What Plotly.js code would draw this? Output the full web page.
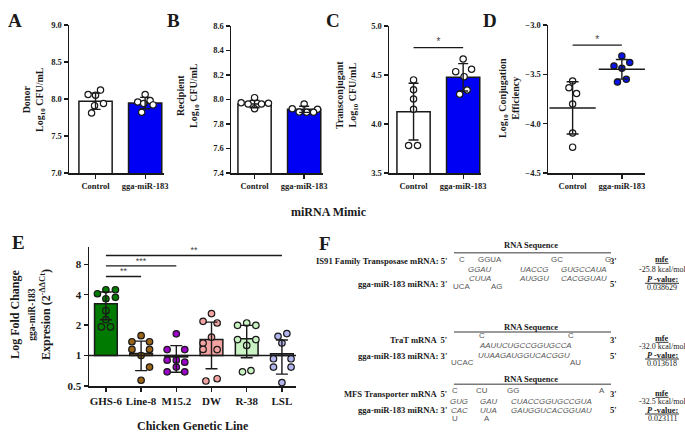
<!DOCTYPE html>
<html><head><meta charset="utf-8">
<script src="https://cdn.plot.ly/plotly-3.0.1.min.js"></script>
<style>html,body{margin:0;padding:0;background:#fff}#c{width:685px;height:446px}</style>
</head><body><div id="c"></div><script>
const W = 685, H = 446;
const X = p => p / W, Y = p => 1 - p / H;

// ---------- DATA ----------
const groups = ['Control', 'gga-miR-183'];
// A: Donor
const donorCtrl = [8.12, 8.06, 8.05, 7.94, 7.91, 7.81];
const donorMimic = [8.06, 7.98, 7.96, 7.94, 7.92, 7.82];
const donorMean = [7.97, 7.945];
const donorSD = [0.11, 0.077];
// B: Recipient
const recipCtrl = [8.015, 7.974, 7.963, 7.963, 7.97, 7.925];
const recipMimic = [7.963, 7.925, 7.92, 7.898, 7.896, 7.896];
const recipMean = [7.963, 7.92];
const recipSD = [0.03, 0.025];
// C: Transconjugant
const transCtrl = [4.45, 4.35, 4.255, 4.15, 3.78, 3.78];
const transMimic = [4.663, 4.534, 4.558, 4.483, 4.347, 4.303];
const transMean = [4.126, 4.476];
const transSD = [0.29, 0.14];
const transSig = [4.78];
// D: Conjugation efficiency
const conjCtrl = [-3.568, -3.636, -3.694, -3.80, -4.095, -4.238];
const conjMimic = [-3.313, -3.415, -3.38, -3.439, -3.578, -3.551];
const conjMean = [-3.84, -3.449];
const conjSD = [0.265, 0.10];
const conjSig = [-3.204];
// E: chicken genetic lines
const lines = ['GHS-6', 'Line-8', 'M15.2', 'DW', 'R-38', 'LSL'];
const ghs6 = [4.48, 4.48, 4.09, 3.77, 3.65, 2.78, 2.27, 1.92, 1.92];
const line8 = [1.575, 1.37, 1.37, 1.15, 1.15, 1.0, 0.77, 0.57];
const m152 = [1.64, 1.146, 1.146, 0.9, 0.9, 0.86, 0.77, 0.69, 0.69];
const dw = [2.6, 2.18, 2.1, 1.52, 1.33, 1.15, 1.146, 0.56, 0.59];
const r38 = [1.99, 2.1, 1.99, 1.44, 1.44, 1.26, 0.69, 0.71];
const lsl = [1.55, 1.65, 1.33, 0.93, 0.93, 0.77, 0.77, 0.54];
const lineMeans = [3.26, 1.05, 0.97, 1.44, 1.47, 1.04];
const lineSD = [1.0, 0.34, 0.285, 0.70, 0.52, 0.385];
const sigTo = [1, 2, 5];
const sigY = [6.06, 7.73, 9.77];
const sigText = ['**', '***', '**'];
// F: RNA hybrids
const fTargets = ["IS91 Family Transposase mRNA: 5'", "TraT mRNA  5'", "MFS Transporter mRNA  5'"];
const fMirna = "gga-miR-183 miRNA: 3'";
const fMfe = ['-25.8 kcal/mol', '-32.0 kcal/mol', '-32.5 kcal/mol'];
const fPvalues = ['0.038629', '0.013618', '0.023111'];
const seqIS91 = [['C', 'GGUA', 'GC', 'G'], ['GGAU', 'UACCG', 'GUGCCAUA'], ['CUUA', 'AUGGU', 'CACGGUAU'], ['UCA', 'AG']];
const seqTraT = [['C', 'C'], ['AAUUCUGCCGGUGCCA'], ['UUAAGAUGGUCACGGU'], ['UCAC', 'AU']];
const seqMFS = [['C', 'CU', 'GG', 'A'], ['GUG', 'GAU', 'CUACCGGUGCCGUA'], ['CAC', 'UUA', 'GAUGGUCACGGUAU'], ['U', 'A']];

// ---------- POSITIONS (jitter of dots, in category units) ----------
const jitA = [[0.1, -0.15, 0.0, 0.16, -0.02, -0.08], [0, 0.1, -0.15, -0.03, 0.16, -0.07]];
const jitB = [[0, -0.27, -0.13, 0.14, 0.28, 0], [0, -0.24, 0.27, -0.1, 0.05, 0.19]];
const jitC = [[0, 0, 0, 0, -0.1, 0.08], [0, -0.15, 0.17, 0.02, 0.08, -0.07]];
const jitD = [[0, -0.075, 0.08, 0, 0, 0], [0, -0.16, 0.16, 0, -0.09, 0.09]];
const jitE = [
  [0, 0.27, -0.24, 0.27, 0, 0, 0, -0.13, 0.13],
  [0, -0.26, 0.24, -0.26, 0.24, 0, 0.24, 0],
  [0, -0.26, 0.24, -0.26, 0, 0.24, 0, -0.26, 0.24],
  [0, -0.24, 0.16, 0, -0.24, -0.24, 0.16, -0.16, 0.16],
  [-0.26, 0, 0.26, -0.26, 0.26, 0, -0.12, 0.12],
  [-0.11, 0.14, 0, -0.24, 0.26, -0.24, 0.26, 0]
];
const lineColors = ['#007A00', '#9A6418', '#9A00C8', '#F4A3A3', '#C9F3C3', '#B3B6EE'];

const SERIF = 'Liberation Serif, Times New Roman, serif';
const SANS = 'Liberation Sans, Arial, sans-serif';
const INK = '#1a1a1a';

const traces = [];
function dots(xc, vals, jit, ax, fill, size) {
  traces.push({type: 'scatter', mode: 'markers', xaxis: 'x' + ax, yaxis: 'y' + ax,
    x: vals.map((v, i) => xc + jit[i]), y: vals,
    marker: {size: size || 6.3, color: fill, line: {color: INK, width: 1.2}},
    hoverinfo: 'skip', cliponaxis: false});
}
function errs(xs, means, sds, ax, capw, meanLine) {
  traces.push({type: 'scatter', mode: 'markers', xaxis: 'x' + ax, yaxis: 'y' + ax,
    x: xs, y: means,
    marker: meanLine ? {symbol: 'line-ew', size: meanLine, color: INK, line: {color: INK, width: 1.5}} : {size: 1, opacity: 0},
    error_y: {type: 'data', array: sds, visible: true, color: INK, thickness: 1.4, width: capw},
    hoverinfo: 'skip', cliponaxis: false});
}
function bracket(x0, x1, yv, txt, ax, size) {
  traces.push({type: 'scatter', mode: 'lines', xaxis: 'x' + ax, yaxis: 'y' + ax,
    x: [x0, x1], y: [yv, yv], line: {color: INK, width: 1.3}, hoverinfo: 'skip', cliponaxis: false});
  traces.push({type: 'scatter', mode: 'text', xaxis: 'x' + ax, yaxis: 'y' + ax,
    x: [(x0 + x1) / 2], y: [yv], text: [txt], textposition: 'top center',
    textfont: {family: SANS, size: size || 10, color: '#444'}, hoverinfo: 'skip', cliponaxis: false});
}
function barPanel(ax, ctrl, mim, means, sds, jit, sig) {
  traces.push({type: 'bar', xaxis: 'x' + ax, yaxis: 'y' + ax, x: [0, 1], y: means, width: 0.67,
    marker: {color: ['#ffffff', '#0000F5'], line: {color: INK, width: 1.5}}, hoverinfo: 'skip'});
  dots(0, ctrl, jit[0], ax, '#ffffff');
  dots(1, mim, jit[1], ax, '#ffffff');
  errs([0, 1], means, sds, ax, 5);
  if (sig) bracket(0, 1, sig[0], '*', ax);
}
barPanel('', donorCtrl, donorMimic, donorMean, donorSD, jitA);
barPanel('2', recipCtrl, recipMimic, recipMean, recipSD, jitB);
barPanel('3', transCtrl, transMimic, transMean, transSD, jitC, transSig);
// D
dots(0, conjCtrl, jitD[0], '4', '#ffffff');
dots(1, conjMimic, jitD[1], '4', '#0A14E6');
errs([0, 1], conjMean, conjSD, '4', 6, 33);
bracket(0, 1, conjSig[0], '*', '4');
// E
const eIdx = lines.map((_, i) => i);
traces.push({type: 'bar', xaxis: 'x5', yaxis: 'y5', x: eIdx, y: lineMeans.map(m => m - 1), base: 1, width: 0.645,
  marker: {color: lineColors, line: {color: INK, width: 1.5}}, hoverinfo: 'skip'});
[ghs6, line8, m152, dw, r38, lsl].forEach((vals, i) => dots(i, vals, jitE[i], '5', lineColors[i], 6.5));
errs(eIdx, lineMeans, lineSD, '5', 6);
sigTo.forEach((t, i) => bracket(0, t, sigY[i], sigText[i], '5', 9));

// ---------- AXES ----------
function xax(d0, d1, range, ticktext, anchor, fs) {
  return {domain: [X(d0), X(d1)], range, anchor, tickmode: 'array', tickvals: ticktext.map((_, i) => i), ticktext,
    showline: true, linecolor: INK, linewidth: 1.5, ticks: 'outside', ticklen: 4, tickwidth: 1.3, tickcolor: INK,
    showgrid: false, zeroline: false, fixedrange: true,
    tickfont: {family: SERIF, size: fs, weight: 'bold', color: INK}};
}
function yax(p0, p1, range, dtick, anchor) {
  return {domain: [Y(p1), Y(p0)], range, dtick, tick0: range[0], tickformat: '.1f', anchor,
    showline: true, linecolor: INK, linewidth: 1.5, ticks: 'outside', ticklen: 4, tickwidth: 1.3, tickcolor: INK,
    showgrid: false, zeroline: false, fixedrange: true,
    tickfont: {family: SERIF, size: 8.5, weight: 'bold', color: INK}};
}
const layout = {
  width: W, height: H, margin: {l: 0, r: 0, t: 0, b: 0}, showlegend: false,
  paper_bgcolor: '#fff', plot_bgcolor: 'rgba(0,0,0,0)', barmode: 'overlay',
  xaxis: xax(69, 164, [-0.535, 1.38], groups, 'y', 8.5),
  yaxis: yax(25, 173, [7, 9], 0.5, 'x'),
  xaxis2: xax(231, 323, [-0.475, 1.38], groups, 'y2', 8.5),
  yaxis2: yax(26, 173, [7.4, 8.6], 0.2, 'x2'),
  xaxis3: xax(389, 481, [-0.495, 1.36], groups, 'y3', 8.5),
  yaxis3: yax(26, 173, [3.5, 5.0], 0.5, 'x3'),
  xaxis4: xax(548, 645, [-0.5, 1.47], groups, 'y4', 8.5),
  yaxis4: yax(25, 173, [-4.5, -3.0], 0.5, 'x4'),
  xaxis5: xax(89, 296, [-0.48, 5.4], lines, 'y5', 11),
  yaxis5: {domain: [Y(386), Y(247)], type: 'log', range: [Math.log10(0.5), Math.log10(11.86)], anchor: 'x5',
    tickmode: 'array', tickvals: [0.5, 1, 2, 4, 8], ticktext: ['0.5', '1', '2', '4', '8'],
    showline: true, linecolor: INK, linewidth: 1.5, ticks: 'outside', ticklen: 4, tickwidth: 1.3, tickcolor: INK,
    showgrid: false, zeroline: false, fixedrange: true, tickfont: {family: SERIF, size: 11, weight: 'bold', color: INK}},
  shapes: [
    {type: 'line', xref: 'x5 domain', x0: 0, x1: 1, yref: 'y5', y0: 1, y1: 1, line: {color: INK, width: 1.5}}
  ],
  annotations: []
};

// ---------- TEXT ----------
function ann(text, px, py, o) {
  o = o || {};
  layout.annotations.push({text, x: X(px), y: Y(py), xref: 'paper', yref: 'paper', showarrow: false,
    xanchor: o.xa || 'center', yanchor: 'middle', textangle: o.rot || 0, borderpad: 0, align: 'center',
    font: {family: o.fam || SERIF, size: o.size || 9, color: o.color || INK, weight: o.w || 'bold', style: o.it ? 'italic' : 'normal'}});
}
function uline(px, py, w) {
  layout.shapes.push({type: 'line', xref: 'paper', yref: 'paper', x0: X(px - w / 2), x1: X(px + w / 2), y0: Y(py), y1: Y(py),
    line: {color: INK, width: 0.9}});
}
// panel letters
[['A', 15, 20], ['B', 174, 20], ['C', 333, 20], ['D', 490, 20], ['E', 18, 242], ['F', 325, 243]]
  .forEach(l => ann(l[0], l[1], l[2], {size: 19}));
// y titles A-D
ann('Donor<br>Log<sub>10</sub> CFU/mL', 34, 100, {rot: -90, size: 10});
ann('Recipient<br>Log<sub>10</sub> CFU/mL', 188, 96, {rot: -90, size: 10});
ann('Transconjugant<br>Log<sub>10</sub> CFU/mL', 347, 95, {rot: -90, size: 10});
ann('Log<sub>10</sub> Conjugation<br>Efficiency', 509, 98, {rot: -90, size: 10});
ann('miRNA Mimic', 329, 212, {size: 12});
// E titles
ann('Log Fold Change<br><span style="font-size:9.5px">gga-miR-183</span><br>Expresion (2<sup>-ΔΔCt</sup>)', 30, 315, {rot: -90, size: 12});
ann('Chicken Genetic Line', 193, 426, {size: 12});

// F blocks
const fSeqs = [seqIS91, seqTraT, seqMFS];
const fLay = [
  {title: 245, line: 252.7, target: 261, mir: 284, rows: [259.3, 269.3, 278.3, 286.5], mfe: [259.3, 269.3, 279.3, 287.3],
   cols: [[461.7, 490, 556.7, 608], [480, 534, 584], [480, 534, 584], [461, 496.7]]},
  {title: 326.7, line: 332, target: 340, mir: 356, rows: [335, 345, 355, 362.7], mfe: [338.3, 346.7, 355, 363.3],
   cols: [[482, 570.7], [525], [524], [462.3, 575]]},
  {title: 379.3, line: 384.3, target: 394, mir: 410, rows: [390, 401.7, 410, 418.3], mfe: [393.3, 401.7, 410, 418.3],
   cols: [[455, 481.7, 513.3, 601.7], [459.3, 488.3, 551.7], [459.3, 488.3, 551.7], [455, 487.3]]}
];
fLay.forEach((L, b) => {
  ann('RNA Sequence', 531, L.title, {size: 8.5});
  layout.shapes.push({type: 'line', xref: 'paper', yref: 'paper', x0: X(454), x1: X(611), y0: Y(L.line), y1: Y(L.line),
    line: {color: '#7a7a7a', width: 1.6}});
  ann(fTargets[b], 448, L.target, {xa: 'right', size: 8.6});
  ann(fMirna, 448, L.mir, {xa: 'right', size: 8.6});
  ann("3'", 613, L.target, {size: 8.6});
  ann("5'", 613, L.mir, {size: 8.6});
  fSeqs[b].forEach((row, r) => row.forEach((s, k) =>
    ann(s, L.cols[r][k], L.rows[r], {fam: SANS, size: 7.9, color: '#555', w: 'normal', it: (r === 1 || r === 2)})));
  ann('mfe', 662, L.mfe[0], {size: 8.2});
  uline(662, L.mfe[0] + 4, 13);
  ann('<i>P</i> -value:', 662, L.mfe[2], {size: 8.2});
  uline(662, L.mfe[2] + 4, 34);
  ann(fMfe[b], 662, L.mfe[1], {size: 8, w: 'normal'});
  ann(fPvalues[b], 662, L.mfe[3], {size: 8, w: 'normal'});
});

Plotly.newPlot('c', traces, layout, {staticPlot: true, displayModeBar: false});
</script></body></html>
